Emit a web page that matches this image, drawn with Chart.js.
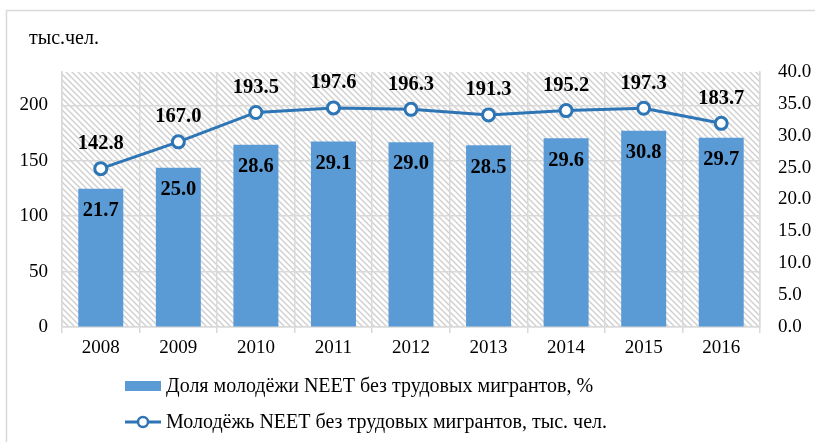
<!DOCTYPE html>
<html><head><meta charset="utf-8">
<script src="https://cdn.jsdelivr.net/npm/chart.js@4/dist/chart.umd.min.js"></script>
<style>html,body{margin:0;padding:0;background:#fff;overflow:hidden}#wrap{width:815px;height:442px;position:relative}</style>
</head><body><div id="wrap"><canvas id="c" width="815" height="442"></canvas></div>
<script>
const years = ['2008','2009','2010','2011','2012','2013','2014','2015','2016'];
const sharePct = [21.7, 25.0, 28.6, 29.1, 29.0, 28.5, 29.6, 30.8, 29.7];
const neetThousands = [142.8, 167.0, 193.5, 197.6, 196.3, 191.3, 195.2, 197.3, 183.7];
const leftTicks = [0, 50, 100, 150, 200];
const shareLabel = 'Доля молодёжи NEET без трудовых мигрантов, %';
const neetLabel = 'Молодёжь NEET без трудовых мигрантов, тыс. чел.';
const unitTitle = 'тыс.чел.';

const SERIF = "'Liberation Serif', 'Times New Roman', serif";
const BAR_COLOR = '#5B9BD5';
const LINE_COLOR = '#2E75B6';
const GRID = '#d9d9d9';

function makePattern(ctx){
  const s = 6, c = document.createElement('canvas');
  c.width = s; c.height = s;
  const p = c.getContext('2d');
  p.fillStyle = '#fff'; p.fillRect(0,0,s,s);
  p.strokeStyle = '#cfcfcf'; p.lineWidth = 1.4;
  p.beginPath();
  p.moveTo(-1,-1); p.lineTo(s+1,s+1);
  p.moveTo(-2,s-2); p.lineTo(2,s+2);
  p.moveTo(s-2,-2); p.lineTo(s+2,2);
  p.stroke();
  return ctx.createPattern(c,'repeat');
}

const decor = {
  id:'decor',
  beforeDraw(chart){
    const {ctx, chartArea:a} = chart;
    ctx.save();
    ctx.fillStyle = '#fff'; ctx.fillRect(0,0,chart.width,chart.height);
    ctx.fillStyle = makePattern(ctx);
    ctx.fillRect(a.left, a.top, a.right-a.left, a.bottom-a.top);
    ctx.strokeStyle = '#d9d9d9'; ctx.lineWidth = 1.5;
    ctx.beginPath(); ctx.moveTo(6.5, chart.height); ctx.lineTo(6.5, 10.5); ctx.lineTo(chart.width, 10.5); ctx.stroke();
    ctx.fillStyle = '#000'; ctx.font = '20px ' + SERIF;
    ctx.textAlign = 'left'; ctx.textBaseline = 'middle';
    ctx.fillText(unitTitle, 29, 39);
    ctx.restore();
  },
  afterDatasetsDraw(chart){
    const {ctx} = chart;
    ctx.save();
    ctx.fillStyle = '#000';
    ctx.font = 'bold 20.5px ' + SERIF;
    ctx.textAlign = 'center'; ctx.textBaseline = 'middle';
    chart.getDatasetMeta(0).data.forEach((el,i)=>{
      ctx.fillText(sharePct[i].toFixed(1), el.x, el.y + 22);
    });
    chart.getDatasetMeta(1).data.forEach((el,i)=>{
      ctx.fillText(neetThousands[i].toFixed(1), el.x, el.y - 25);
    });
    ctx.restore();
  },
  afterDraw(chart){
    const {ctx} = chart;
    ctx.save();
    ctx.font = '20px ' + SERIF;
    ctx.textAlign='left'; ctx.textBaseline='middle';
    ctx.fillStyle = BAR_COLOR;
    ctx.fillRect(125, 381, 36, 10);
    ctx.fillStyle = '#000';
    ctx.fillText(chart.data.datasets[0].label, 166, 387);
    ctx.strokeStyle = LINE_COLOR; ctx.lineWidth = 3;
    ctx.beginPath(); ctx.moveTo(125, 422); ctx.lineTo(161, 422); ctx.stroke();
    ctx.beginPath(); ctx.arc(143, 422, 5, 0, Math.PI*2);
    ctx.fillStyle = '#fff'; ctx.fill(); ctx.lineWidth = 2.5; ctx.stroke();
    ctx.fillStyle = '#000';
    ctx.fillText(chart.data.datasets[1].label, 166, 423);
    ctx.restore();
  }
};

const tickFont = {family: SERIF, size: 19};

new Chart(document.getElementById('c'), {
  data: {
    labels: years,
    datasets: [
      {type:'bar', label: shareLabel, data: sharePct, yAxisID:'yR', backgroundColor: BAR_COLOR,
       barPercentage: 0.58, categoryPercentage: 1.0, order: 2},
      {type:'line', label: neetLabel, data: neetThousands, yAxisID:'yL', borderColor: LINE_COLOR, borderWidth: 3,
       pointRadius: 6, pointBackgroundColor:'#fff', pointBorderColor: LINE_COLOR, pointBorderWidth: 3,
       tension: 0, order: 1}
    ]
  },
  options: {
    responsive:false, animation:false, devicePixelRatio:1,
    layout:{padding:{top:72, left:0, right:0, bottom:85}},
    plugins:{legend:{display:false}, tooltip:{enabled:false}},
    scales:{
      x:{
        grid:{offset:true, color:GRID, lineWidth:1.5, tickLength:6},
        border:{color:GRID, width:1.5},
        ticks:{font:tickFont, color:'#000', padding:4},
        afterFit: axis => { axis.height = 30; }
      },
      yL:{
        type:'linear', position:'left', min:0, max:230,
        afterBuildTicks: axis => { axis.ticks = leftTicks.map(v=>({value:v})); },
        grid:{color:GRID, lineWidth:1.5, drawTicks:false},
        border:{display:true, color:GRID, width:1.5},
        ticks:{font:tickFont, color:'#000', padding:14},
        afterFit: axis => { axis.width = 62; }
      },
      yR:{
        type:'linear', position:'right', min:0, max:40,
        ticks:{stepSize:5, callback:v=>Number(v).toFixed(1), font:tickFont, color:'#000', padding:18},
        grid:{drawOnChartArea:false, drawTicks:false},
        border:{display:true, color:GRID, width:1.5},
        afterFit: axis => { axis.width = 55; }
      }
    }
  },
  plugins:[decor]
});
</script></body></html>
